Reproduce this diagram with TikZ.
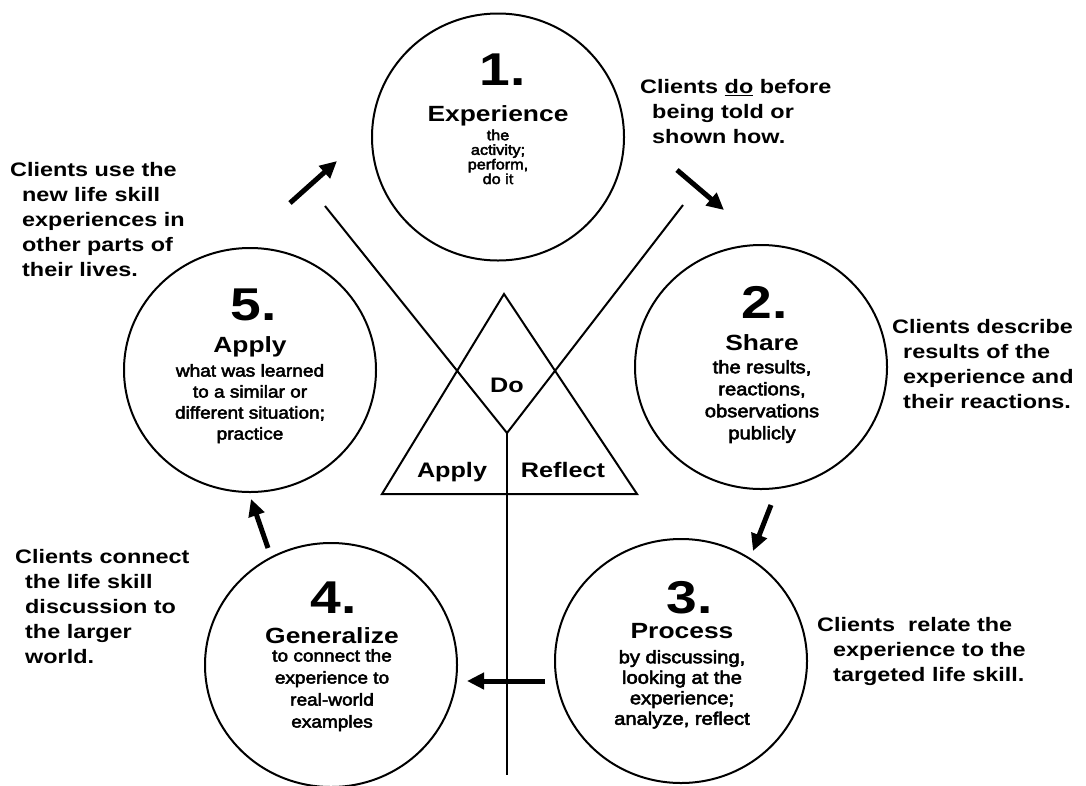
\documentclass[tikz,border=0pt]{standalone}
\usepackage{fontspec}
\setmainfont{Liberation Sans}
\newfontfamily\wfam{Liberation Sans}[FakeStretch=1.2]
\newfontfamily\sfam{Liberation Sans}[FakeStretch=1.12,FakeBold=3]
\usetikzlibrary{arrows.meta,shapes.geometric}

\tikzset{
  ring/.style={draw, line width=2pt, ellipse, minimum width=252pt, minimum height=244pt, inner sep=0pt},
  numtxt/.style={font={\wfam\bfseries\fontsize{46}{46}\selectfont}, inner sep=0pt, anchor=base},
  headtxt/.style={font={\wfam\bfseries\fontsize{22}{24}\selectfont}, inner sep=0pt, anchor=base},
  bodytxt/.style={font={\sfam\fontsize{18}{21}\selectfont}, align=center, inner sep=0pt, anchor=north},
  tritxt/.style={font={\wfam\bfseries\fontsize{21}{22}\selectfont}, inner sep=0pt, anchor=base},
  sidetxt/.style={font={\wfam\bfseries\fontsize{19.5}{25}\selectfont}, align=left, inner sep=0pt, anchor=north west},
  flow/.style={line width=5pt, -{Triangle[length=17pt,width=16pt]}},
  cross/.style={line width=2pt, line join=miter},
}

\begin{document}
\begin{tikzpicture}[x=1pt,y=-1pt]
\useasboundingbox (0,0) rectangle (1086,785);
\fill[white] (0,0) rectangle (1086,785);

% circles
\node[ring, minimum height=247pt] (c1) at (498,137) {};
\node[ring] (c2) at (761,367) {};
\node[ring] (c3) at (681,661) {};
\node[ring] (c4) at (331,665) {};
\node[ring] (c5) at (250,370) {};

% circle 1
\node[numtxt] (n1) at (503,85) {1.};
\node[headtxt] (h1) at (498,121) {Experience};
\node[bodytxt, font={\sfam\fontsize{14.5}{14.6}\selectfont}] (b1) at (498,129.5) {the\\activity;\\perform,\\do it};

% circle 2
\node[numtxt] (n2) at (765,318) {2.};
\node[headtxt] (h2) at (762,350) {Share};
\node[bodytxt, font={\sfam\fontsize{18}{22}\selectfont}] (b2) at (762,360) {the results,\\reactions,\\observations\\publicly};

% circle 3
\node[numtxt] (n3) at (690,613) {3.};
\node[headtxt] (h3) at (682,638) {Process};
\node[bodytxt, font={\sfam\fontsize{18}{20.5}\selectfont}] (b3) at (682,650) {by discussing,\\looking at the\\experience;\\analyze, reflect};

% circle 4
\node[numtxt] (n4) at (334,613) {4.};
\node[headtxt] (h4) at (332,643) {Generalize};
\node[bodytxt, font={\sfam\fontsize{17}{22}\selectfont}] (b4) at (332,649) {to connect the\\experience to\\real-world\\examples};

% circle 5
\node[numtxt] (n5) at (254,320) {5.};
\node[headtxt] (h5) at (250,352) {Apply};
\node[bodytxt, font={\sfam\fontsize{17}{21}\selectfont}] (b5) at (250,364) {what was learned\\to a similar or\\different situation;\\practice};

% triangle and crossing lines
\coordinate (apex) at (504,294);
\coordinate (bl) at (382,494);
\coordinate (br) at (637,494);
\coordinate (jn) at (507,433);
\coordinate (ls) at (325,206);
\coordinate (rs) at (683,205);
\coordinate (vb) at (507,775);
\draw[cross] (apex) -- (br) -- (bl) -- cycle;
\draw[cross] (ls) -- (jn) -- (rs);
\draw[cross] (jn) -- (vb);
\node[tritxt] (tdo) at (507,392) {Do};
\node[tritxt] (tap) at (452,477) {Apply};
\node[tritxt] (tre) at (563,477) {Reflect};

% cycle arrows
\coordinate (a1s) at (290,203); \coordinate (a1e) at (337,161);
\coordinate (a2s) at (677,170); \coordinate (a2e) at (724,210);
\coordinate (a3s) at (771,505); \coordinate (a3e) at (753,551);
\coordinate (a4s) at (545,681); \coordinate (a4e) at (467,681);
\coordinate (a5s) at (268,548); \coordinate (a5e) at (251,499);
\draw[flow] (a1s) -- (a1e);
\draw[flow] (a2s) -- (a2e);
\draw[flow] (a3s) -- (a3e);
\draw[flow] (a4s) -- (a4e);
\draw[flow] (a5s) -- (a5e);

% side notes
\node[sidetxt] (s1) at (640,79) {Clients \underline{do} before\\\hspace*{12pt}being told or\\\hspace*{12pt}shown how.};
\node[sidetxt] (s5) at (10,162) {Clients use the\\\hspace*{12pt}new life skill\\\hspace*{12pt}experiences in\\\hspace*{12pt}other parts of\\\hspace*{12pt}their lives.};
\node[sidetxt] (s2) at (892,319) {Clients describe\\\hspace*{11pt}results of the\\\hspace*{11pt}experience and\\\hspace*{11pt}their reactions.};
\node[sidetxt] (s4) at (15,549) {Clients connect\\\hspace*{10pt}the life skill\\\hspace*{10pt}discussion to\\\hspace*{10pt}the larger\\\hspace*{10pt}world.};
\node[sidetxt] (s3) at (817,617) {Clients\ \ relate the\\\hspace*{16pt}experience to the\\\hspace*{16pt}targeted life skill.};
\end{tikzpicture}
\end{document}
